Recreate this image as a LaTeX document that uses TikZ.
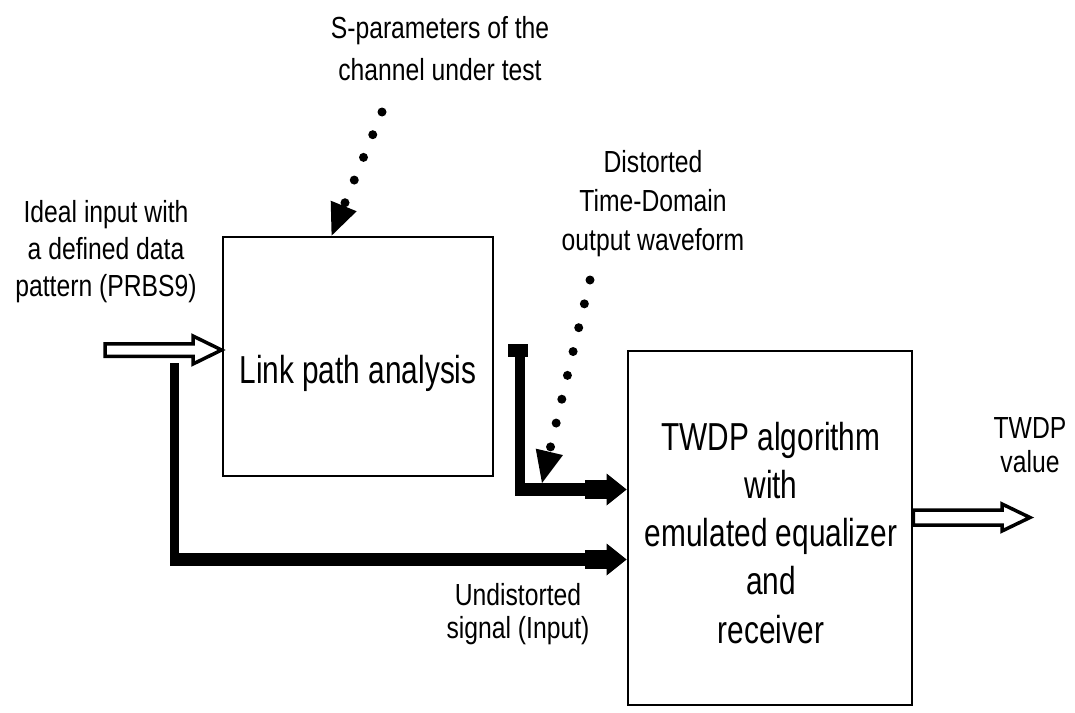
\documentclass[tikz,border=0pt]{standalone}
\usepackage{fontspec}
\setmainfont{Liberation Sans}
\newfontfamily\smallf[FakeStretch=0.81]{Liberation Sans}
\newfontfamily\bigf[FakeStretch=0.765]{Liberation Sans}
\usetikzlibrary{arrows.meta,calc}
\begin{document}
\begin{tikzpicture}[x=1pt,y=-1pt,
  box/.style={draw,line width=2.8pt,inner sep=0pt},
  lbl/.style={font=\smallf\fontsize{30.5}{37}\selectfont,align=center,inner sep=0pt,anchor=base},
  biglbl/.style={font=\bigf\fontsize{39}{48.25}\selectfont,align=center,inner sep=0pt,anchor=base},
  hollow/.style={draw,line width=3.5pt,line join=miter,fill=white},
  thickv/.style={line width=9.5pt},
  thickh/.style={line width=13pt,
    -{Rectangle[length=22pt,width=19pt,line width=0pt 0 0,sep=0pt 0 0]Triangle[length=20pt,width=32pt,line width=0pt 0 0,sep=0pt 0 0]}},
  dotted arrow/.style={line width=9pt,line cap=round,dash pattern=on 0pt off 24.5pt,
    -{Triangle[length=32pt,width=28pt,line width=0pt 0 0]}},
]
\useasboundingbox (0,0) rectangle (1075,712);

% boxes
\node[box,minimum width=270pt,minimum height=239pt] (b1) at (358,356.5) {};
\node[box,minimum width=284pt,minimum height=354pt] (b2) at (770,528) {};

% texts (anchor = baseline of the last line)
\node[biglbl] (tb1) at (358,383) {Link path analysis};
\node[biglbl] (tb2) at (771,643) {TWDP algorithm\\with\\emulated equalizer\\and\\receiver};
\node[lbl,font=\smallf\fontsize{30.5}{42}\selectfont] (tsp) at (440,80) {S-parameters of the\\channel under test};
\node[lbl] (tin) at (106,296) {Ideal input with\\a defined data\\pattern (PRBS9)};
\node[lbl,font=\smallf\fontsize{30.5}{39}\selectfont] (tdis) at (653,250) {Distorted\\Time-Domain\\output waveform};
\node[lbl,font=\smallf\fontsize{30.5}{34}\selectfont] (tval) at (1030,472) {TWDP\\value};
\node[lbl,font=\smallf\fontsize{30.5}{33}\selectfont] (tund) at (518,638) {Undistorted\\signal (Input)};

% hollow input arrow
\coordinate (inS) at (105,350);
\draw[hollow] (inS) ++(0,-6.25) -- (193,343.75) -- (193,336) -- (b1.west |- inS) -- (193,364) -- (193,356.25) -- (105,356.25) -- cycle;

% hollow output arrow
\coordinate (outT) at (1030,517.5);
\draw[hollow] (b2.east |- 0,510) -- (1002,510) -- (1002,504) -- (outT) -- (1002,531) -- (1002,525) -- (b2.east |- 0,525) -- cycle;

% undistorted signal path
\coordinate (u1) at (174.5,363);
\coordinate (u2) at (174.5,566);
\draw[thickv] (u1) -- (u2);
\draw[thickh] (170,559.5) -- (b2.west |- 0,559.5);

% distorted signal path
\node[fill,minimum width=20pt,minimum height=13pt,inner sep=0pt] (cap) at (518,350.5) {};
\coordinate (c2) at (520,496);
\draw[line width=10pt] (cap.south -| c2) -- (c2);
\draw[thickh] (515,489.5) -- (b2.west |- 0,489.5);

% dotted arrows
\coordinate (d1) at (382,112);
\draw[dotted arrow] (d1) -- ($(b1.north west)+(110,0)$);
\coordinate (d2) at (590,280);
\coordinate (t2) at (542,483);
\draw[dotted arrow] (d2) -- (t2);
\end{tikzpicture}
\end{document}
